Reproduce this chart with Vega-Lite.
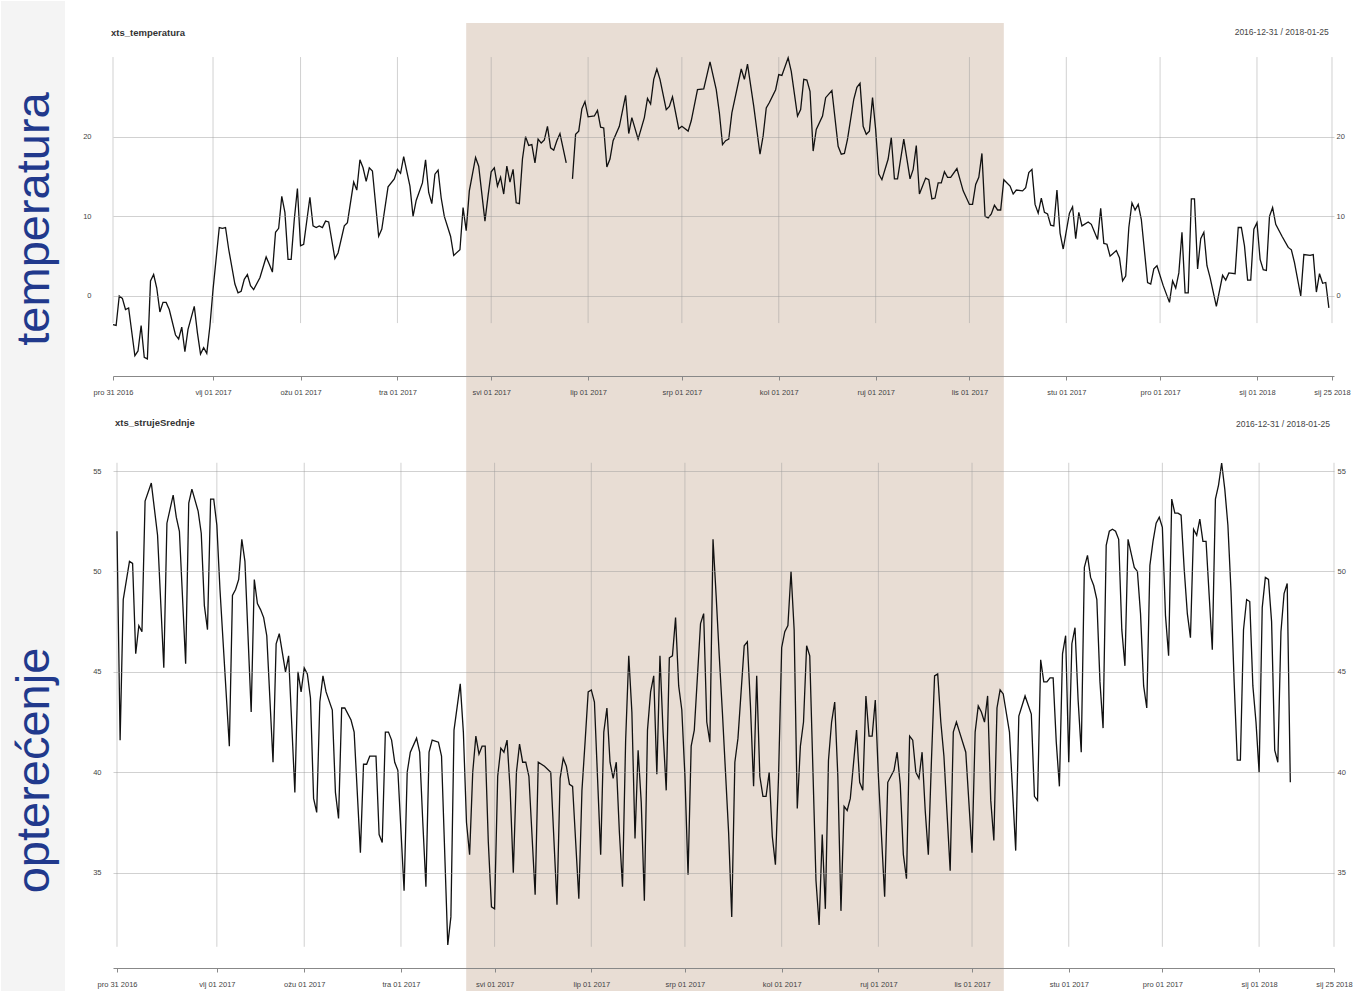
{
"$schema": "https://vega.github.io/schema/vega-lite/v6.json",
"background": "white",
"padding": 0,
"spacing": 80,
"bounds": "flush",
"config": {"view": {"stroke": null}, "font": "Liberation Sans"},
"datasets": {
"ticks": [{"date":"2016-12-31"},{"date":"2017-02-01"},{"date":"2017-03-01"},{"date":"2017-04-01"},{"date":"2017-05-01"},{"date":"2017-06-01"},{"date":"2017-07-01"},{"date":"2017-08-01"},{"date":"2017-09-01"},{"date":"2017-10-01"},{"date":"2017-11-01"},{"date":"2017-12-01"},{"date":"2018-01-01"},{"date":"2018-01-25"}],
"temperatura": [
{"date":"2016-12-31","t":-3.6},{"date":"2017-01-01","t":-3.7},{"date":"2017-01-02","t":0.0},{"date":"2017-01-03","t":-0.3},{"date":"2017-01-04","t":-1.7},{"date":"2017-01-05","t":-1.5},{"date":"2017-01-07","t":-7.5},{"date":"2017-01-08","t":-6.9},{"date":"2017-01-09","t":-3.7},{"date":"2017-01-10","t":-7.7},{"date":"2017-01-11","t":-7.9},{"date":"2017-01-12","t":1.9},{"date":"2017-01-13","t":2.7},{"date":"2017-01-14","t":1.0},{"date":"2017-01-15","t":-2.0},{"date":"2017-01-16","t":-0.8},{"date":"2017-01-17","t":-0.8},{"date":"2017-01-18","t":-1.7},{"date":"2017-01-20","t":-4.9},{"date":"2017-01-21","t":-5.4},{"date":"2017-01-22","t":-3.9},{"date":"2017-01-23","t":-7.0},{"date":"2017-01-24","t":-4.2},{"date":"2017-01-26","t":-1.3},{"date":"2017-01-27","t":-4.6},{"date":"2017-01-28","t":-7.3},{"date":"2017-01-29","t":-6.5},{"date":"2017-01-30","t":-7.2},{"date":"2017-01-31","t":-3.8},
{"date":"2017-02-01","t":0.8},{"date":"2017-02-03","t":8.6},{"date":"2017-02-04","t":8.5},{"date":"2017-02-05","t":8.6},{"date":"2017-02-06","t":5.9},{"date":"2017-02-08","t":1.5},{"date":"2017-02-09","t":0.4},{"date":"2017-02-10","t":0.6},{"date":"2017-02-11","t":2.1},{"date":"2017-02-12","t":2.7},{"date":"2017-02-13","t":1.3},{"date":"2017-02-14","t":0.8},{"date":"2017-02-16","t":2.3},{"date":"2017-02-18","t":4.9},{"date":"2017-02-19","t":4.0},{"date":"2017-02-20","t":3.0},{"date":"2017-02-21","t":8.0},{"date":"2017-02-22","t":8.5},{"date":"2017-02-23","t":12.5},{"date":"2017-02-24","t":10.5},{"date":"2017-02-25","t":4.6},{"date":"2017-02-26","t":4.6},{"date":"2017-02-27","t":9.6},{"date":"2017-02-28","t":13.5},
{"date":"2017-03-01","t":6.3},{"date":"2017-03-02","t":6.5},{"date":"2017-03-04","t":12.4},{"date":"2017-03-05","t":8.8},{"date":"2017-03-06","t":8.6},{"date":"2017-03-07","t":8.8},{"date":"2017-03-08","t":8.6},{"date":"2017-03-09","t":9.4},{"date":"2017-03-10","t":9.3},{"date":"2017-03-12","t":4.7},{"date":"2017-03-13","t":5.4},{"date":"2017-03-15","t":8.8},{"date":"2017-03-16","t":9.2},{"date":"2017-03-18","t":14.3},{"date":"2017-03-19","t":13.3},{"date":"2017-03-20","t":17.1},{"date":"2017-03-21","t":16.1},{"date":"2017-03-22","t":14.4},{"date":"2017-03-23","t":16.1},{"date":"2017-03-24","t":15.7},{"date":"2017-03-26","t":7.5},{"date":"2017-03-27","t":8.4},{"date":"2017-03-29","t":13.7},{"date":"2017-03-31","t":14.7},
{"date":"2017-04-01","t":15.9},{"date":"2017-04-02","t":15.4},{"date":"2017-04-03","t":17.5},{"date":"2017-04-05","t":13.8},{"date":"2017-04-06","t":10.0},{"date":"2017-04-07","t":12.0},{"date":"2017-04-09","t":14.2},{"date":"2017-04-10","t":17.1},{"date":"2017-04-11","t":13.0},{"date":"2017-04-12","t":11.6},{"date":"2017-04-13","t":15.3},{"date":"2017-04-14","t":15.8},{"date":"2017-04-15","t":12.3},{"date":"2017-04-16","t":10.0},{"date":"2017-04-18","t":7.5},{"date":"2017-04-19","t":5.1},{"date":"2017-04-21","t":5.8},{"date":"2017-04-22","t":11.1},{"date":"2017-04-23","t":8.2},{"date":"2017-04-24","t":13.2},{"date":"2017-04-26","t":17.4},{"date":"2017-04-27","t":16.3},{"date":"2017-04-29","t":9.4},{"date":"2017-04-30","t":12.6},
{"date":"2017-05-01","t":15.6},{"date":"2017-05-02","t":16.1},{"date":"2017-05-03","t":13.8},{"date":"2017-05-04","t":14.9},{"date":"2017-05-05","t":12.8},{"date":"2017-05-06","t":16.3},{"date":"2017-05-07","t":14.3},{"date":"2017-05-08","t":15.9},{"date":"2017-05-09","t":11.7},{"date":"2017-05-10","t":11.6},{"date":"2017-05-11","t":17.2},{"date":"2017-05-12","t":20.0},{"date":"2017-05-13","t":18.9},{"date":"2017-05-14","t":19.0},{"date":"2017-05-15","t":16.7},{"date":"2017-05-16","t":19.7},{"date":"2017-05-17","t":19.2},{"date":"2017-05-18","t":19.6},{"date":"2017-05-19","t":21.3},{"date":"2017-05-20","t":18.6},{"date":"2017-05-21","t":18.3},{"date":"2017-05-22","t":19.5},{"date":"2017-05-23","t":20.4},{"date":"2017-05-25","t":16.7},{"date":"2017-05-26","t":null},{"date":"2017-05-27","t":14.7},{"date":"2017-05-28","t":20.3},{"date":"2017-05-29","t":20.7},{"date":"2017-05-30","t":23.5},{"date":"2017-05-31","t":24.4},
{"date":"2017-06-01","t":22.5},{"date":"2017-06-03","t":22.6},{"date":"2017-06-04","t":23.3},{"date":"2017-06-05","t":21.2},{"date":"2017-06-06","t":21.1},{"date":"2017-06-07","t":16.2},{"date":"2017-06-08","t":17.2},{"date":"2017-06-09","t":19.5},{"date":"2017-06-11","t":21.3},{"date":"2017-06-13","t":25.2},{"date":"2017-06-14","t":20.4},{"date":"2017-06-15","t":22.4},{"date":"2017-06-17","t":19.7},{"date":"2017-06-19","t":22.4},{"date":"2017-06-20","t":24.8},{"date":"2017-06-21","t":24.1},{"date":"2017-06-22","t":27.2},{"date":"2017-06-23","t":28.5},{"date":"2017-06-24","t":27.2},{"date":"2017-06-26","t":23.4},{"date":"2017-06-27","t":23.8},{"date":"2017-06-28","t":25.0},{"date":"2017-06-30","t":21.0},
{"date":"2017-07-01","t":21.3},{"date":"2017-07-03","t":20.7},{"date":"2017-07-04","t":22.0},{"date":"2017-07-06","t":25.9},{"date":"2017-07-08","t":26.0},{"date":"2017-07-10","t":29.4},{"date":"2017-07-12","t":25.9},{"date":"2017-07-13","t":23.0},{"date":"2017-07-14","t":19.0},{"date":"2017-07-15","t":19.5},{"date":"2017-07-16","t":19.7},{"date":"2017-07-17","t":23.0},{"date":"2017-07-20","t":28.5},{"date":"2017-07-21","t":27.2},{"date":"2017-07-22","t":29.1},{"date":"2017-07-24","t":23.8},{"date":"2017-07-26","t":17.8},{"date":"2017-07-27","t":20.1},{"date":"2017-07-28","t":23.6},{"date":"2017-07-29","t":24.3},{"date":"2017-07-31","t":25.9},
{"date":"2017-08-01","t":27.8},{"date":"2017-08-02","t":27.7},{"date":"2017-08-04","t":29.9},{"date":"2017-08-05","t":28.2},{"date":"2017-08-07","t":22.6},{"date":"2017-08-08","t":23.4},{"date":"2017-08-09","t":27.2},{"date":"2017-08-10","t":27.1},{"date":"2017-08-11","t":25.7},{"date":"2017-08-12","t":18.2},{"date":"2017-08-13","t":20.9},{"date":"2017-08-15","t":22.6},{"date":"2017-08-16","t":24.9},{"date":"2017-08-18","t":25.8},{"date":"2017-08-20","t":18.8},{"date":"2017-08-21","t":17.8},{"date":"2017-08-22","t":17.9},{"date":"2017-08-23","t":19.7},{"date":"2017-08-25","t":24.7},{"date":"2017-08-26","t":26.2},{"date":"2017-08-27","t":26.7},{"date":"2017-08-28","t":21.3},{"date":"2017-08-29","t":20.3},{"date":"2017-08-30","t":20.7},{"date":"2017-08-31","t":24.9},
{"date":"2017-09-01","t":20.9},{"date":"2017-09-02","t":15.3},{"date":"2017-09-03","t":14.6},{"date":"2017-09-05","t":17.2},{"date":"2017-09-06","t":19.9},{"date":"2017-09-07","t":14.7},{"date":"2017-09-08","t":14.7},{"date":"2017-09-10","t":19.7},{"date":"2017-09-12","t":14.7},{"date":"2017-09-13","t":15.9},{"date":"2017-09-14","t":18.9},{"date":"2017-09-15","t":12.8},{"date":"2017-09-17","t":14.8},{"date":"2017-09-18","t":14.6},{"date":"2017-09-19","t":12.2},{"date":"2017-09-20","t":12.3},{"date":"2017-09-21","t":14.2},{"date":"2017-09-22","t":14.2},{"date":"2017-09-23","t":15.6},{"date":"2017-09-24","t":14.9},{"date":"2017-09-25","t":14.9},{"date":"2017-09-27","t":16.0},{"date":"2017-09-29","t":13.2},
{"date":"2017-10-01","t":11.5},{"date":"2017-10-02","t":11.5},{"date":"2017-10-03","t":14.0},{"date":"2017-10-04","t":14.9},{"date":"2017-10-05","t":17.9},{"date":"2017-10-06","t":10.0},{"date":"2017-10-07","t":9.8},{"date":"2017-10-08","t":10.3},{"date":"2017-10-09","t":11.4},{"date":"2017-10-10","t":10.8},{"date":"2017-10-11","t":10.8},{"date":"2017-10-12","t":14.6},{"date":"2017-10-14","t":13.8},{"date":"2017-10-15","t":12.8},{"date":"2017-10-16","t":13.3},{"date":"2017-10-18","t":13.2},{"date":"2017-10-19","t":13.6},{"date":"2017-10-20","t":15.5},{"date":"2017-10-21","t":15.9},{"date":"2017-10-22","t":11.5},{"date":"2017-10-23","t":10.4},{"date":"2017-10-24","t":12.3},{"date":"2017-10-25","t":10.5},{"date":"2017-10-26","t":10.3},{"date":"2017-10-27","t":8.9},{"date":"2017-10-28","t":8.8},{"date":"2017-10-29","t":13.3},{"date":"2017-10-30","t":7.9},{"date":"2017-10-31","t":5.9},
{"date":"2017-11-02","t":10.4},{"date":"2017-11-03","t":11.2},{"date":"2017-11-04","t":7.2},{"date":"2017-11-05","t":10.5},{"date":"2017-11-06","t":8.8},{"date":"2017-11-08","t":9.3},{"date":"2017-11-09","t":9.0},{"date":"2017-11-11","t":7.1},{"date":"2017-11-12","t":11.0},{"date":"2017-11-13","t":6.6},{"date":"2017-11-14","t":6.5},{"date":"2017-11-15","t":5.0},{"date":"2017-11-17","t":5.7},{"date":"2017-11-18","t":4.8},{"date":"2017-11-19","t":1.9},{"date":"2017-11-20","t":2.5},{"date":"2017-11-21","t":8.6},{"date":"2017-11-22","t":11.7},{"date":"2017-11-23","t":10.8},{"date":"2017-11-24","t":11.5},{"date":"2017-11-25","t":9.6},{"date":"2017-11-27","t":1.7},{"date":"2017-11-28","t":1.5},{"date":"2017-11-29","t":3.4},{"date":"2017-11-30","t":3.8},
{"date":"2017-12-02","t":1.3},{"date":"2017-12-04","t":-0.8},{"date":"2017-12-05","t":1.9},{"date":"2017-12-06","t":1.0},{"date":"2017-12-07","t":2.9},{"date":"2017-12-08","t":8.0},{"date":"2017-12-09","t":0.4},{"date":"2017-12-10","t":0.4},{"date":"2017-12-11","t":12.2},{"date":"2017-12-12","t":12.2},{"date":"2017-12-13","t":3.4},{"date":"2017-12-14","t":7.2},{"date":"2017-12-15","t":8.0},{"date":"2017-12-16","t":3.8},{"date":"2017-12-17","t":2.3},{"date":"2017-12-19","t":-1.3},{"date":"2017-12-21","t":2.6},{"date":"2017-12-22","t":2.0},{"date":"2017-12-23","t":2.9},{"date":"2017-12-25","t":2.8},{"date":"2017-12-26","t":8.6},{"date":"2017-12-27","t":8.6},{"date":"2017-12-28","t":6.3},{"date":"2017-12-29","t":2.0},{"date":"2017-12-30","t":2.0},{"date":"2017-12-31","t":8.4},
{"date":"2018-01-01","t":9.2},{"date":"2018-01-02","t":4.6},{"date":"2018-01-03","t":3.3},{"date":"2018-01-04","t":3.2},{"date":"2018-01-05","t":10.0},{"date":"2018-01-06","t":11.1},{"date":"2018-01-07","t":9.0},{"date":"2018-01-09","t":7.5},{"date":"2018-01-11","t":6.1},{"date":"2018-01-12","t":5.8},{"date":"2018-01-13","t":4.2},{"date":"2018-01-15","t":0.0},{"date":"2018-01-16","t":5.2},{"date":"2018-01-18","t":5.1},{"date":"2018-01-19","t":5.2},{"date":"2018-01-20","t":0.5},{"date":"2018-01-21","t":2.8},{"date":"2018-01-22","t":1.6},{"date":"2018-01-23","t":1.7},{"date":"2018-01-24","t":-1.5}
],
"opterecenje": [
{"date":"2016-12-31","load":52.0},{"date":"2017-01-01","load":41.6},{"date":"2017-01-02","load":48.6},{"date":"2017-01-04","load":50.5},{"date":"2017-01-05","load":50.4},{"date":"2017-01-06","load":45.9},{"date":"2017-01-07","load":47.3},{"date":"2017-01-08","load":47.0},{"date":"2017-01-09","load":53.5},{"date":"2017-01-11","load":54.4},{"date":"2017-01-13","load":51.8},{"date":"2017-01-15","load":45.2},{"date":"2017-01-16","load":52.4},{"date":"2017-01-18","load":53.8},{"date":"2017-01-19","load":52.7},{"date":"2017-01-20","load":52.0},{"date":"2017-01-22","load":45.4},{"date":"2017-01-23","load":53.4},{"date":"2017-01-24","load":54.1},{"date":"2017-01-26","load":53.0},{"date":"2017-01-27","load":51.9},{"date":"2017-01-28","load":48.3},{"date":"2017-01-29","load":47.1},{"date":"2017-01-30","load":53.6},{"date":"2017-01-31","load":53.6},
{"date":"2017-02-01","load":52.3},{"date":"2017-02-02","load":49.1},{"date":"2017-02-05","load":41.3},{"date":"2017-02-06","load":48.8},{"date":"2017-02-07","load":49.1},{"date":"2017-02-08","load":49.6},{"date":"2017-02-09","load":51.6},{"date":"2017-02-10","load":50.5},{"date":"2017-02-12","load":43.0},{"date":"2017-02-13","load":49.6},{"date":"2017-02-14","load":48.4},{"date":"2017-02-15","load":48.1},{"date":"2017-02-16","load":47.7},{"date":"2017-02-17","load":46.8},{"date":"2017-02-19","load":40.5},{"date":"2017-02-20","load":46.4},{"date":"2017-02-21","load":46.9},{"date":"2017-02-23","load":45.0},{"date":"2017-02-24","load":45.8},{"date":"2017-02-26","load":39.0},{"date":"2017-02-27","load":45.0},{"date":"2017-02-28","load":44.0},
{"date":"2017-03-01","load":45.2},{"date":"2017-03-02","load":44.9},{"date":"2017-03-03","load":43.7},{"date":"2017-03-04","load":38.7},{"date":"2017-03-05","load":38.0},{"date":"2017-03-06","load":43.5},{"date":"2017-03-07","load":44.8},{"date":"2017-03-08","load":44.0},{"date":"2017-03-10","load":43.1},{"date":"2017-03-11","load":39.0},{"date":"2017-03-12","load":37.7},{"date":"2017-03-13","load":43.2},{"date":"2017-03-14","load":43.2},{"date":"2017-03-16","load":42.6},{"date":"2017-03-17","load":42.0},{"date":"2017-03-19","load":36.0},{"date":"2017-03-20","load":40.4},{"date":"2017-03-21","load":40.4},{"date":"2017-03-22","load":40.8},{"date":"2017-03-24","load":40.8},{"date":"2017-03-25","load":36.9},{"date":"2017-03-26","load":36.5},{"date":"2017-03-27","load":42.0},{"date":"2017-03-28","load":42.0},{"date":"2017-03-29","load":41.6},{"date":"2017-03-30","load":40.5},{"date":"2017-03-31","load":40.1},
{"date":"2017-04-02","load":34.1},{"date":"2017-04-03","load":40.0},{"date":"2017-04-04","load":41.0},{"date":"2017-04-06","load":41.7},{"date":"2017-04-07","load":41.0},{"date":"2017-04-08","load":37.5},{"date":"2017-04-09","load":34.3},{"date":"2017-04-10","load":41.0},{"date":"2017-04-11","load":41.6},{"date":"2017-04-13","load":41.5},{"date":"2017-04-14","load":40.8},{"date":"2017-04-16","load":31.4},{"date":"2017-04-17","load":32.8},{"date":"2017-04-18","load":42.1},{"date":"2017-04-20","load":44.4},{"date":"2017-04-21","load":42.0},{"date":"2017-04-22","load":37.5},{"date":"2017-04-23","load":35.9},{"date":"2017-04-24","load":40.0},{"date":"2017-04-25","load":41.8},{"date":"2017-04-26","load":40.9},{"date":"2017-04-27","load":41.3},{"date":"2017-04-28","load":41.3},{"date":"2017-04-29","load":36.5},{"date":"2017-04-30","load":33.3},
{"date":"2017-05-01","load":33.2},{"date":"2017-05-02","load":39.8},{"date":"2017-05-03","load":41.2},{"date":"2017-05-04","load":41.0},{"date":"2017-05-05","load":41.6},{"date":"2017-05-06","load":39.1},{"date":"2017-05-07","load":35.0},{"date":"2017-05-08","load":40.0},{"date":"2017-05-09","load":41.4},{"date":"2017-05-10","load":40.5},{"date":"2017-05-11","load":40.5},{"date":"2017-05-12","load":39.8},{"date":"2017-05-14","load":33.9},{"date":"2017-05-15","load":40.5},{"date":"2017-05-17","load":40.3},{"date":"2017-05-19","load":40.0},{"date":"2017-05-21","load":33.4},{"date":"2017-05-22","load":39.7},{"date":"2017-05-23","load":40.7},{"date":"2017-05-24","load":40.3},{"date":"2017-05-25","load":39.4},{"date":"2017-05-26","load":39.3},{"date":"2017-05-28","load":33.7},{"date":"2017-05-29","load":39.1},{"date":"2017-05-30","load":41.5},{"date":"2017-05-31","load":44.0},
{"date":"2017-06-01","load":44.1},{"date":"2017-06-02","load":43.5},{"date":"2017-06-03","load":39.7},{"date":"2017-06-04","load":35.9},{"date":"2017-06-05","load":42.0},{"date":"2017-06-06","load":43.2},{"date":"2017-06-07","load":40.5},{"date":"2017-06-08","load":39.7},{"date":"2017-06-09","load":40.5},{"date":"2017-06-10","load":37.0},{"date":"2017-06-11","load":34.3},{"date":"2017-06-12","load":41.6},{"date":"2017-06-13","load":45.8},{"date":"2017-06-14","load":43.0},{"date":"2017-06-15","load":36.7},{"date":"2017-06-16","load":41.1},{"date":"2017-06-17","load":38.5},{"date":"2017-06-18","load":33.6},{"date":"2017-06-19","load":42.1},{"date":"2017-06-20","load":44.0},{"date":"2017-06-21","load":44.8},{"date":"2017-06-22","load":39.9},{"date":"2017-06-23","load":45.8},{"date":"2017-06-24","load":42.0},{"date":"2017-06-25","load":39.1},{"date":"2017-06-26","load":45.7},{"date":"2017-06-27","load":45.8},{"date":"2017-06-28","load":47.7},{"date":"2017-06-29","load":44.3},{"date":"2017-06-30","load":43.1},
{"date":"2017-07-01","load":39.8},{"date":"2017-07-02","load":34.9},{"date":"2017-07-03","load":41.3},{"date":"2017-07-04","load":42.1},{"date":"2017-07-06","load":47.4},{"date":"2017-07-07","load":47.9},{"date":"2017-07-08","load":42.5},{"date":"2017-07-09","load":41.5},{"date":"2017-07-10","load":51.6},{"date":"2017-07-11","load":48.8},{"date":"2017-07-12","load":45.8},{"date":"2017-07-13","load":43.0},{"date":"2017-07-14","load":40.0},{"date":"2017-07-15","load":37.0},{"date":"2017-07-16","load":32.8},{"date":"2017-07-17","load":40.5},{"date":"2017-07-18","load":41.7},{"date":"2017-07-20","load":46.3},{"date":"2017-07-21","load":46.5},{"date":"2017-07-22","load":43.3},{"date":"2017-07-23","load":39.3},{"date":"2017-07-24","load":44.8},{"date":"2017-07-25","load":39.8},{"date":"2017-07-26","load":38.8},{"date":"2017-07-27","load":38.8},{"date":"2017-07-28","load":40.0},{"date":"2017-07-29","load":36.8},{"date":"2017-07-30","load":35.4},{"date":"2017-07-31","load":39.8},
{"date":"2017-08-01","load":46.2},{"date":"2017-08-02","load":47.0},{"date":"2017-08-03","load":47.3},{"date":"2017-08-04","load":50.0},{"date":"2017-08-05","load":47.1},{"date":"2017-08-06","load":38.2},{"date":"2017-08-07","load":41.3},{"date":"2017-08-08","load":42.5},{"date":"2017-08-09","load":46.3},{"date":"2017-08-10","load":45.8},{"date":"2017-08-12","load":34.6},{"date":"2017-08-13","load":32.4},{"date":"2017-08-14","load":36.9},{"date":"2017-08-15","load":33.2},{"date":"2017-08-16","load":40.6},{"date":"2017-08-17","load":42.5},{"date":"2017-08-18","load":43.5},{"date":"2017-08-19","load":39.8},{"date":"2017-08-20","load":33.1},{"date":"2017-08-21","load":38.3},{"date":"2017-08-22","load":38.1},{"date":"2017-08-23","load":38.7},{"date":"2017-08-25","load":42.1},{"date":"2017-08-26","load":39.5},{"date":"2017-08-27","load":39.1},{"date":"2017-08-28","load":43.8},{"date":"2017-08-29","load":41.8},{"date":"2017-08-30","load":41.8},{"date":"2017-08-31","load":43.6},
{"date":"2017-09-01","load":39.8},{"date":"2017-09-03","load":33.8},{"date":"2017-09-04","load":39.5},{"date":"2017-09-06","load":40.1},{"date":"2017-09-07","load":41.0},{"date":"2017-09-08","load":39.4},{"date":"2017-09-09","load":35.9},{"date":"2017-09-10","load":34.7},{"date":"2017-09-11","load":41.8},{"date":"2017-09-12","load":41.6},{"date":"2017-09-13","load":40.0},{"date":"2017-09-14","load":39.7},{"date":"2017-09-15","load":41.0},{"date":"2017-09-16","load":38.1},{"date":"2017-09-17","load":35.9},{"date":"2017-09-18","load":40.6},{"date":"2017-09-19","load":44.8},{"date":"2017-09-20","load":44.9},{"date":"2017-09-21","load":42.5},{"date":"2017-09-22","load":40.8},{"date":"2017-09-24","load":35.1},{"date":"2017-09-25","load":42.0},{"date":"2017-09-26","load":42.5},{"date":"2017-09-27","load":42.0},{"date":"2017-09-29","load":41.0},
{"date":"2017-10-01","load":36.0},{"date":"2017-10-02","load":42.0},{"date":"2017-10-03","load":43.3},{"date":"2017-10-04","load":43.0},{"date":"2017-10-05","load":42.5},{"date":"2017-10-06","load":43.8},{"date":"2017-10-07","load":38.6},{"date":"2017-10-08","load":36.6},{"date":"2017-10-09","load":43.2},{"date":"2017-10-10","load":44.1},{"date":"2017-10-11","load":43.9},{"date":"2017-10-13","load":42.0},{"date":"2017-10-15","load":36.1},{"date":"2017-10-16","load":42.8},{"date":"2017-10-18","load":43.8},{"date":"2017-10-20","load":42.9},{"date":"2017-10-21","load":38.8},{"date":"2017-10-22","load":38.6},{"date":"2017-10-23","load":45.6},{"date":"2017-10-24","load":44.5},{"date":"2017-10-25","load":44.5},{"date":"2017-10-26","load":44.7},{"date":"2017-10-27","load":44.7},{"date":"2017-10-28","load":41.5},{"date":"2017-10-29","load":39.3},{"date":"2017-10-30","load":45.9},{"date":"2017-10-31","load":46.8},
{"date":"2017-11-01","load":40.5},{"date":"2017-11-02","load":46.4},{"date":"2017-11-03","load":47.2},{"date":"2017-11-04","load":43.6},{"date":"2017-11-05","load":41.0},{"date":"2017-11-06","load":50.2},{"date":"2017-11-07","load":50.8},{"date":"2017-11-08","load":49.7},{"date":"2017-11-09","load":49.3},{"date":"2017-11-10","load":48.6},{"date":"2017-11-11","load":44.5},{"date":"2017-11-12","load":42.2},{"date":"2017-11-13","load":51.3},{"date":"2017-11-14","load":52.0},{"date":"2017-11-15","load":52.1},{"date":"2017-11-16","load":52.0},{"date":"2017-11-17","load":51.6},{"date":"2017-11-18","load":47.1},{"date":"2017-11-19","load":45.3},{"date":"2017-11-20","load":51.6},{"date":"2017-11-21","load":50.9},{"date":"2017-11-22","load":50.2},{"date":"2017-11-23","load":50.0},{"date":"2017-11-24","load":47.9},{"date":"2017-11-25","load":44.3},{"date":"2017-11-26","load":43.2},{"date":"2017-11-27","load":50.3},{"date":"2017-11-28","load":51.5},{"date":"2017-11-29","load":52.4},{"date":"2017-11-30","load":52.7},
{"date":"2017-12-01","load":52.2},{"date":"2017-12-02","load":47.8},{"date":"2017-12-03","load":45.8},{"date":"2017-12-04","load":53.6},{"date":"2017-12-05","load":52.9},{"date":"2017-12-06","load":52.9},{"date":"2017-12-07","load":52.8},{"date":"2017-12-08","load":50.1},{"date":"2017-12-09","load":47.9},{"date":"2017-12-10","load":46.7},{"date":"2017-12-11","load":52.1},{"date":"2017-12-12","load":51.8},{"date":"2017-12-13","load":52.6},{"date":"2017-12-14","load":51.5},{"date":"2017-12-15","load":51.5},{"date":"2017-12-16","load":48.8},{"date":"2017-12-17","load":46.1},{"date":"2017-12-18","load":53.6},{"date":"2017-12-19","load":54.3},{"date":"2017-12-20","load":55.4},{"date":"2017-12-21","load":54.1},{"date":"2017-12-22","load":52.3},{"date":"2017-12-23","load":49.0},{"date":"2017-12-24","load":44.5},{"date":"2017-12-25","load":40.6},{"date":"2017-12-26","load":40.6},{"date":"2017-12-27","load":47.1},{"date":"2017-12-28","load":48.6},{"date":"2017-12-29","load":48.5},{"date":"2017-12-30","load":44.3},{"date":"2017-12-31","load":42.5},
{"date":"2018-01-01","load":40.0},{"date":"2018-01-02","load":48.2},{"date":"2018-01-03","load":49.7},{"date":"2018-01-04","load":49.6},{"date":"2018-01-05","load":47.5},{"date":"2018-01-06","load":41.1},{"date":"2018-01-07","load":40.5},{"date":"2018-01-08","load":47.0},{"date":"2018-01-09","load":48.9},{"date":"2018-01-10","load":49.4},{"date":"2018-01-11","load":39.5}
]
},
"vconcat": [
{
"width": 1221, "height": 335,
"resolve": {"axis": {"x": "independent", "y": "independent"}},
"layer": [
{"data": {"values": [{}]}, "mark": {"type": "rect", "color": "#f4f4f4"},
 "encoding": {
  "x": {"datum": {"year": 2016, "month": 11, "date": 25, "hours": 4, "utc": true}, "type": "temporal", "axis": null,
        "scale": {"type": "utc", "nice": false, "domain": [{"year": 2016, "month": 12, "date": 31, "utc": true}, {"year": 2018, "month": 1, "date": 25, "hours": 15, "minutes": 22, "utc": true}]}},
  "x2": {"datum": {"year": 2016, "month": 12, "date": 15, "hours": 15, "utc": true}},
  "y": {"datum": 37.04, "type": "quantitative", "axis": null, "scale": {"domain": [-10.044, 32.015], "nice": false, "zero": false}},
  "y2": {"datum": -87.38}}},
{"data": {"values": [{}]}, "mark": {"type": "rect", "color": "#e8ddd4"},
 "encoding": {
  "x": {"datum": {"year": 2017, "month": 4, "date": 23, "utc": true}, "type": "temporal", "axis": null},
  "x2": {"datum": {"year": 2017, "month": 10, "date": 12, "utc": true}},
  "y": {"datum": 34.27, "type": "quantitative", "axis": null, "scale": {"domain": [-10.044, 32.015], "nice": false, "zero": false}},
  "y2": {"datum": -87.38}}},
{"data": {"name": "ticks"}, "mark": {"type": "rule", "color": "#9a9a9a", "opacity": 0.45, "strokeWidth": 1},
 "encoding": {
  "x": {"field": "date", "type": "temporal",
        "axis": {"orient": "bottom", "title": null, "grid": false, "domain": true, "domainColor": "#888", "ticks": true, "tickColor": "#888", "tickSize": 4, "labelPadding": 8, "labelFontSize": 7.5, "labelColor": "#444", "labelFont": "Liberation Sans", "labelOverlap": false, "labelFlush": false, "zindex": 1,
                 "values": [1483142400000,1485907200000,1488326400000,1491004800000,1493596800000,1496275200000,1498867200000,1501545600000,1504224000000,1506816000000,1509494400000,1512086400000,1514764800000,1516838400000],
                 "labelExpr": "['sij','vlj','ožu','tra','svi','lip','srp','kol','ruj','lis','stu','pro'][utcmonth(datum.value)] + ' ' + utcFormat(datum.value, '%d %Y')"}},
  "y": {"datum": 30.0, "type": "quantitative", "scale": {"domain": [-10.044, 32.015], "nice": false, "zero": false},
        "axis": {"orient": "left", "values": [0, 10, 20], "grid": true, "gridColor": "#9a9a9a", "gridOpacity": 0.45, "domain": false, "ticks": false, "labelPadding": 22, "labelFontSize": 7.5, "labelColor": "#444", "labelFont": "Liberation Sans", "zindex": 1,
                 "title": "temperatura", "titleFont": "Liberation Sans", "titleFontSize": 47, "titleFontWeight": "normal", "titleColor": "#21398c", "titleAngle": 270, "titleAlign": "center", "titleBaseline": "alphabetic", "titleX": -65, "titleY": 177.5}},
  "y2": {"datum": -3.4}}},
{"data": {"name": "temperatura"}, "mark": {"type": "line", "color": "#111111", "strokeWidth": 1.3, "invalid": "break-paths-filter-domains"},
 "encoding": {
  "x": {"field": "date", "type": "temporal", "axis": null},
  "y": {"field": "t", "type": "quantitative", "scale": {"domain": [-10.044, 32.015], "nice": false, "zero": false},
        "axis": {"orient": "right", "values": [0, 10, 20], "grid": false, "domain": false, "ticks": false, "labelPadding": 2, "labelFontSize": 7.5, "labelColor": "#444", "labelFont": "Liberation Sans", "title": null, "zindex": 1}}}},
{"data": {"values": [{}]}, "mark": {"type": "text", "align": "left", "baseline": "middle", "fontSize": 9.5, "fontWeight": "bold", "color": "#333333", "font": "Liberation Sans"},
 "encoding": {
  "x": {"datum": {"year": 2016, "month": 12, "date": 30, "hours": 8, "minutes": 38, "utc": true}, "type": "temporal", "axis": null},
  "y": {"datum": 33.08, "type": "quantitative", "axis": null},
  "text": {"value": "xts_temperatura"}}},
{"data": {"values": [{}]}, "mark": {"type": "text", "align": "right", "baseline": "middle", "fontSize": 8.5, "color": "#444444", "font": "Liberation Sans"},
 "encoding": {
  "x": {"datum": {"year": 2018, "month": 1, "date": 23, "hours": 22, "minutes": 48, "utc": true}, "type": "temporal", "axis": null},
  "y": {"datum": 33.15, "type": "quantitative", "axis": null},
  "text": {"value": "2016-12-31 / 2018-01-25"}}}
]
},
{
"width": 1221, "height": 512,
"resolve": {"axis": {"x": "independent", "y": "independent"}},
"layer": [
{"data": {"name": "ticks"}, "mark": {"type": "rule", "color": "#9a9a9a", "opacity": 0.45, "strokeWidth": 1},
 "encoding": {
  "x": {"field": "date", "type": "temporal",
        "scale": {"type": "utc", "nice": false, "domain": [{"year": 2016, "month": 12, "date": 29, "hours": 17, "minutes": 17, "utc": true}, {"year": 2018, "month": 1, "date": 25, "utc": true}]},
        "axis": {"orient": "bottom", "title": null, "grid": false, "domain": true, "domainColor": "#888", "ticks": true, "tickColor": "#888", "tickSize": 4, "labelPadding": 8, "labelFontSize": 7.5, "labelColor": "#444", "labelFont": "Liberation Sans", "labelOverlap": false, "labelFlush": false, "zindex": 1,
                 "values": [1483142400000,1485907200000,1488326400000,1491004800000,1493596800000,1496275200000,1498867200000,1501545600000,1504224000000,1506816000000,1509494400000,1512086400000,1514764800000,1516838400000],
                 "labelExpr": "['sij','vlj','ožu','tra','svi','lip','srp','kol','ruj','lis','stu','pro'][utcmonth(datum.value)] + ' ' + utcFormat(datum.value, '%d %Y')"}},
  "y": {"datum": 55.41, "type": "quantitative",
        "scale": {"domain": [30.255, 55.747], "nice": false, "zero": false},
        "axis": {"orient": "left", "values": [35, 40, 45, 50, 55], "grid": true, "gridColor": "#9a9a9a", "gridOpacity": 0.45, "domain": false, "ticks": false, "labelPadding": 12, "labelFontSize": 7.5, "labelColor": "#444", "labelFont": "Liberation Sans", "zindex": 1,
                 "title": "opterećenje", "titleFont": "Liberation Sans", "titleFontSize": 47, "titleFontWeight": "normal", "titleColor": "#21398c", "titleAngle": 270, "titleAlign": "center", "titleBaseline": "alphabetic", "titleX": -65, "titleY": 314}},
  "y2": {"datum": 31.31}}},
{"data": {"name": "opterecenje"}, "mark": {"type": "line", "color": "#111111", "strokeWidth": 1.3},
 "encoding": {
  "x": {"field": "date", "type": "temporal", "axis": null},
  "y": {"field": "load", "type": "quantitative", "scale": {"domain": [30.255, 55.747], "nice": false, "zero": false},
        "axis": {"orient": "right", "values": [35, 40, 45, 50, 55], "grid": false, "domain": false, "ticks": false, "labelPadding": 3, "labelFontSize": 7.5, "labelColor": "#444", "labelFont": "Liberation Sans", "title": null, "zindex": 1}}}},
{"data": {"values": [{}]}, "mark": {"type": "text", "align": "left", "baseline": "middle", "fontSize": 9.5, "fontWeight": "bold", "color": "#333333", "font": "Liberation Sans"},
 "encoding": {
  "x": {"datum": {"year": 2016, "month": 12, "date": 30, "hours": 9, "utc": true}, "type": "temporal", "axis": null},
  "y": {"datum": 57.39, "type": "quantitative", "axis": null, "scale": {"domain": [30.255, 55.747], "nice": false, "zero": false}},
  "text": {"value": "xts_strujeSrednje"}}},
{"data": {"values": [{}]}, "mark": {"type": "text", "align": "right", "baseline": "middle", "fontSize": 8.5, "color": "#444444", "font": "Liberation Sans"},
 "encoding": {
  "x": {"datum": {"year": 2018, "month": 1, "date": 23, "hours": 17, "utc": true}, "type": "temporal", "axis": null},
  "y": {"datum": 57.34, "type": "quantitative", "axis": null, "scale": {"domain": [30.255, 55.747], "nice": false, "zero": false}},
  "text": {"value": "2016-12-31 / 2018-01-25"}}}
]
}
]
}
